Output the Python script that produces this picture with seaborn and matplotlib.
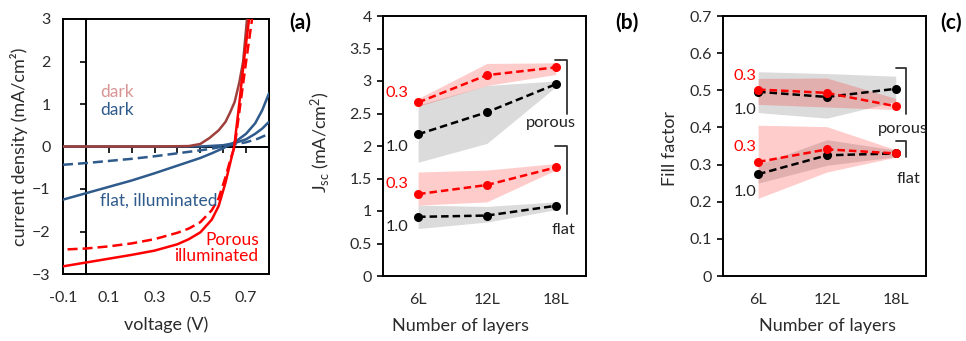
import matplotlib
matplotlib.use("Agg")
import matplotlib.pyplot as plt
import seaborn as sns
import pandas as pd
from matplotlib.ticker import FormatStrFormatter

sns.set_theme(style="white")
plt.rcParams['font.family'] = ['Lato', 'DejaVu Sans']
plt.rcParams['mathtext.fontset'] = 'custom'
plt.rcParams['mathtext.rm'] = 'Lato'
plt.rcParams['mathtext.it'] = 'Lato:italic'
plt.rcParams['mathtext.bf'] = 'Lato:bold'

TXT = '#2b2b2b'
RED = '#FF0000'
BLUE = '#2E5A8C'
BROWN = '#A0403C'
PINK = '#D99594'

# ---------------- panel (a): J-V curves ----------------
v_porous_dark = [-0.1, 0.3, 0.45, 0.5, 0.54, 0.58, 0.61, 0.63, 0.65, 0.67, 0.687, 0.704]
j_porous_dark = [0.0, 0.0, 0.01, 0.06, 0.2, 0.38, 0.58, 0.8, 1.05, 1.5, 2.0, 3.0]

v_porous_ill = [-0.1, 0.0, 0.1, 0.2, 0.3, 0.4, 0.45, 0.5, 0.55, 0.58, 0.61, 0.63, 0.648, 0.67, 0.69, 0.713]
j_porous_ill = [-2.82, -2.73, -2.64, -2.55, -2.45, -2.3, -2.18, -2.02, -1.72, -1.4, -0.85, -0.4, 0.0, 1.0, 2.0, 3.0]

v_porous_ill2 = [-0.08, 0.0, 0.1, 0.2, 0.3, 0.4, 0.45, 0.5, 0.55, 0.58, 0.61, 0.63, 0.65, 0.675, 0.70, 0.726]
j_porous_ill2 = [-2.42, -2.40, -2.35, -2.28, -2.18, -2.03, -1.93, -1.78, -1.5, -1.22, -0.72, -0.33, 0.0, 1.0, 2.0, 3.0]

v_flat_dark = [-0.1, 0.5, 0.6, 0.65, 0.7, 0.74, 0.77, 0.8]
j_flat_dark = [0.0, 0.0, 0.03, 0.08, 0.17, 0.3, 0.42, 0.58]

v_flat_ill = [-0.1, 0.0, 0.1, 0.2, 0.3, 0.4, 0.5, 0.55, 0.6, 0.65, 0.7, 0.74, 0.77, 0.8]
j_flat_ill = [-1.25, -1.1, -0.95, -0.8, -0.63, -0.45, -0.27, -0.16, -0.04, 0.1, 0.3, 0.55, 0.85, 1.25]

v_flat_ill2 = [-0.1, 0.0, 0.1, 0.2, 0.3, 0.4, 0.5, 0.55, 0.6, 0.65, 0.7, 0.75, 0.8]
j_flat_ill2 = [-0.43, -0.39, -0.34, -0.29, -0.23, -0.16, -0.09, -0.05, 0.0, 0.05, 0.1, 0.18, 0.3]

a_xticklabels = ['-0.1', '0.1', '0.3', '0.5', '0.7']
a_xtickvals = [-0.1, 0.1, 0.3, 0.5, 0.7]
a_minor_ticks = [0.1, 0.2, 0.3, 0.4, 0.5, 0.6, 0.7]
a_yticks = [-3, -2, -1, 0, 1, 2, 3]

# ---------------- panels (b), (c) ----------------
layers = ['6L', '12L', '18L']

jsc_porous_03 = [2.67, 3.09, 3.21]
jsc_porous_03_lo = [2.61, 2.93, 3.10]
jsc_porous_03_hi = [2.73, 3.27, 3.28]
jsc_porous_10 = [2.18, 2.52, 2.95]
jsc_porous_10_lo = [1.75, 2.04, 2.91]
jsc_porous_10_hi = [2.63, 2.93, 3.00]
jsc_flat_03 = [1.26, 1.40, 1.67]
jsc_flat_03_lo = [1.09, 1.14, 1.63]
jsc_flat_03_hi = [1.60, 1.63, 1.73]
jsc_flat_10 = [0.91, 0.93, 1.08]
jsc_flat_10_lo = [0.73, 0.83, 1.02]
jsc_flat_10_hi = [1.09, 1.07, 1.14]

ff_porous_03 = [0.502, 0.493, 0.457]
ff_porous_03_lo = [0.462, 0.455, 0.448]
ff_porous_03_hi = [0.532, 0.533, 0.478]
ff_porous_10 = [0.496, 0.482, 0.504]
ff_porous_10_lo = [0.440, 0.425, 0.470]
ff_porous_10_hi = [0.550, 0.545, 0.538]
ff_flat_03 = [0.307, 0.341, 0.330]
ff_flat_03_lo = [0.209, 0.280, 0.320]
ff_flat_03_hi = [0.406, 0.402, 0.340]
ff_flat_10 = [0.274, 0.325, 0.330]
ff_flat_10_lo = [0.250, 0.298, 0.321]
ff_flat_10_hi = [0.300, 0.367, 0.339]

jsc_yticks = [0, 0.5, 1, 1.5, 2, 2.5, 3, 3.5, 4]
ff_yticks = [0, 0.1, 0.2, 0.3, 0.4, 0.5, 0.6, 0.7]

TICK_FS = 11.5
LABEL_FS = 13
ANN_FS = 12.5
SERIES_FS = 11.8

fig = plt.figure(figsize=(9.66, 3.41), dpi=100)

# ---- panel (a) ----
rectA = [63 / 966, 1 - 274 / 341, 206 / 966, 255 / 341]
axA = fig.add_axes(rectA)
axA2 = fig.add_axes(rectA, label='zero-axes')
for ax in (axA, axA2):
    ax.set_xlim(-0.1, 0.8)
    ax.set_ylim(-3, 3)
axA.set_xticks(a_xtickvals)
axA.set_xticklabels(a_xticklabels)
axA.set_yticks(a_yticks)
axA.tick_params(length=0, labelsize=TICK_FS, colors=TXT, pad=9)
axA.tick_params(axis='x', pad=12)
for s in axA.spines.values():
    s.set_color('black')
    s.set_linewidth(1.4)
axA.set_xlabel('voltage (V)', fontsize=LABEL_FS, color=TXT)
axA.set_ylabel('current density (mA/cm²)', fontsize=LABEL_FS, color=TXT)
axA.xaxis.set_label_coords(0.5, -0.165)
axA.yaxis.set_label_coords(-0.17, 0.5)

axA2.patch.set_visible(False)
axA2.spines['top'].set_visible(False)
axA2.spines['right'].set_visible(False)
axA2.spines['left'].set_position(('data', 0))
axA2.spines['bottom'].set_position(('data', 0))
for s in ('left', 'bottom'):
    axA2.spines[s].set_color('black')
    axA2.spines[s].set_linewidth(1.4)
axA2.set_xticks(a_minor_ticks)
axA2.set_yticks(a_yticks)
axA2.tick_params(direction='out', length=4, width=1.2, color='black',
                 labelleft=False, labelbottom=False, left=True, bottom=True)

def jv(x, y, color, dashed=False):
    sns.lineplot(x=x, y=y, ax=axA2, color=color, linewidth=1.8, sort=False,
                 estimator=None, linestyle=(0, (4, 2)) if dashed else '-', zorder=3)

jv(v_flat_dark, j_flat_dark, BLUE)
jv(v_flat_ill, j_flat_ill, BLUE)
jv(v_flat_ill2, j_flat_ill2, BLUE, dashed=True)
jv(v_porous_dark, j_porous_dark, BROWN)
jv(v_porous_ill, j_porous_ill, RED)
jv(v_porous_ill2, j_porous_ill2, RED, dashed=True)
axA2.set_xlabel('')
axA2.set_ylabel('')

axA2.text(0.061, 1.28, 'dark', color=PINK, fontsize=ANN_FS, ha='left', va='center')
axA2.text(0.061, 0.87, 'dark', color=BLUE, fontsize=ANN_FS, ha='left', va='center')
axA2.text(0.061, -1.28, 'flat, illuminated', color=BLUE, fontsize=ANN_FS, ha='left', va='center')
axA2.text(0.755, -2.39, 'Porous\nilluminated', color=RED, fontsize=ANN_FS, ha='right',
          va='center', multialignment='right', linespacing=1.05)

# ---- panels (b), (c) ----
xpos = [0, 1, 2]

def band_panel(ax, series, yticks, ylim, ylabel, labels03, labels10, lab_x,
               porous_txt, flat_txt, br_porous, br_flat):
    for mean, lo, hi, color, alpha in series:
        ax.fill_between(xpos, lo, hi, color=color, alpha=alpha, linewidth=0, zorder=1)
    for mean, lo, hi, color, alpha in series:
        c = RED if color == RED else 'black'
        sns.lineplot(x=xpos, y=mean, ax=ax, color=c, linewidth=1.8,
                     linestyle=(0, (3, 1.6)), marker='o', markersize=6.5,
                     markeredgewidth=0, zorder=3)
    ax.set_xlim(-0.51, 2.44)
    ax.set_ylim(*ylim)
    ax.set_xticks(xpos)
    ax.set_xticklabels(layers)
    ax.set_yticks(yticks)
    ax.yaxis.set_major_formatter(FormatStrFormatter('%g'))
    ax.tick_params(axis='y', direction='out', length=4, width=1.2, color='black',
                   left=True, labelsize=TICK_FS, colors=TXT, pad=4)
    ax.tick_params(axis='x', length=0, labelsize=TICK_FS, colors=TXT, pad=12)
    for s in ax.spines.values():
        s.set_color('black')
        s.set_linewidth(1.4)
    ax.set_xlabel('Number of layers', fontsize=LABEL_FS, color=TXT)
    ax.set_ylabel(ylabel, fontsize=LABEL_FS, color=TXT)
    for (x, y) in labels03:
        ax.text(lab_x, y, '0.3', color=RED, fontsize=SERIES_FS, ha='right', va='center')
    for (x, y) in labels10:
        ax.text(lab_x, y, '1.0', color='#222222', fontsize=SERIES_FS, ha='right', va='center')
    ax.text(porous_txt[0], porous_txt[1], 'porous', color='#222222', fontsize=SERIES_FS,
            ha='center', va='center')
    ax.text(flat_txt[0], flat_txt[1], 'flat', color='#222222', fontsize=SERIES_FS,
            ha='center', va='center')
    for br in (br_porous, br_flat):
        ax.plot(br[0], br[1], color='#333333', linewidth=1.3, zorder=2)

rectB = [383 / 966, 1 - 276 / 341, 203 / 966, 260 / 341]
rectC = [723 / 966, 1 - 276 / 341, 203 / 966, 260 / 341]
axB = fig.add_axes(rectB)
axC = fig.add_axes(rectC)

GREY = '#7f7f7f'
band_panel(axB,
           [(jsc_porous_10, jsc_porous_10_lo, jsc_porous_10_hi, GREY, 0.28),
            (jsc_flat_10, jsc_flat_10_lo, jsc_flat_10_hi, GREY, 0.28),
            (jsc_porous_03, jsc_porous_03_lo, jsc_porous_03_hi, RED, 0.2),
            (jsc_flat_03, jsc_flat_03_lo, jsc_flat_03_hi, RED, 0.2)],
           jsc_yticks, (0, 4), r'J$_{\mathrm{sc}}$ (mA/cm$^{2}$)',
           [(0, 2.82), (0, 1.42)], [(0, 1.99), (0, 0.76)], -0.14,
           (1.93, 2.36), (2.11, 0.71),
           ([1.99, 2.16, 2.16], [3.32, 3.32, 2.50]),
           ([1.99, 2.16, 2.16], [2.0, 2.0, 0.96]))
axB.xaxis.set_label_coords(0.384, -0.16)
axB.yaxis.set_label_coords(-0.25, 0.515)

band_panel(axC,
           [(ff_porous_10, ff_porous_10_lo, ff_porous_10_hi, GREY, 0.28),
            (ff_flat_10, ff_flat_10_lo, ff_flat_10_hi, GREY, 0.28),
            (ff_porous_03, ff_porous_03_lo, ff_porous_03_hi, RED, 0.2),
            (ff_flat_03, ff_flat_03_lo, ff_flat_03_hi, RED, 0.2)],
           ff_yticks, (0, 0.7), 'Fill factor',
           [(0, 0.538), (0, 0.346)], [(0, 0.446), (0, 0.227)], -0.03,
           (2.10, 0.397), (2.18, 0.261),
           ([2.0, 2.15, 2.15], [0.561, 0.561, 0.436]),
           ([2.0, 2.15, 2.15], [0.364, 0.364, 0.321]))
axC.xaxis.set_label_coords(0.515, -0.16)
axC.yaxis.set_label_coords(-0.22, 0.49)

# panel letters
fig.text(300 / 966, 1 - 23 / 341, '(a)', fontsize=15, fontweight='bold', ha='center', va='center', color='black')
fig.text(627 / 966, 1 - 23 / 341, '(b)', fontsize=15, fontweight='bold', ha='center', va='center', color='black')
fig.text(951 / 966, 1 - 23 / 341, '(c)', fontsize=15, fontweight='bold', ha='center', va='center', color='black')

fig.savefig('out.png', dpi=100)
